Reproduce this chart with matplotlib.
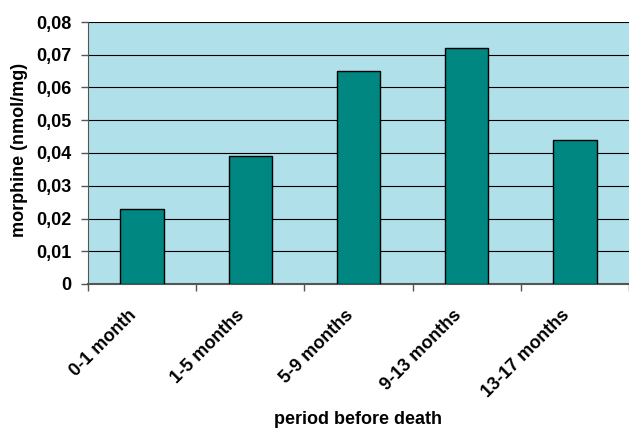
import numpy as np
import matplotlib
matplotlib.use("Agg")
import matplotlib.pyplot as plt
import matplotlib.transforms as mtransforms
from matplotlib.ticker import FuncFormatter, MultipleLocator

categories = ["0-1 month", "1-5 months", "5-9 months", "9-13 months", "13-17 months"]
morphine = [0.023, 0.039, 0.065, 0.072, 0.044]

plt.rcParams["font.family"] = ["Liberation Sans", "DejaVu Sans"]
plt.rcParams["font.weight"] = "bold"

fig = plt.figure(figsize=(6.29, 4.28), dpi=100, facecolor="white")
ax = fig.add_axes([88 / 629, 1 - 284 / 428, (629 - 88) / 629, (284 - 22) / 428])
ax.set_facecolor("#b0e0ea")

x = np.arange(len(categories))
ax.bar(x, morphine, width=0.4, color="#008781", edgecolor="black", linewidth=1.0, zorder=3)

ax.set_xlim(-0.5, len(categories) - 0.5)
ax.set_ylim(0, 0.08)
ax.yaxis.set_major_locator(MultipleLocator(0.01))
ax.yaxis.set_major_formatter(FuncFormatter(
    lambda v, p: "0" if abs(v) < 1e-9 else f"{v:.2f}".replace(".", ",")))
ax.grid(axis="y", color="black", linewidth=0.8, zorder=1)

ax.set_xticks(np.arange(len(categories) + 1) - 0.5)
ax.set_xticklabels([])
ax.set_xticks(x, minor=True)
ax.tick_params(axis="x", which="minor", length=0, pad=20.5)
ax.tick_params(axis="x", which="major", length=5, color="#555555", width=1)
ax.tick_params(axis="y", length=5, color="#555555", width=1, labelsize=13, pad=7)
ax.set_xticklabels(categories, minor=True, rotation=45, ha="right", va="center",
                   rotation_mode="anchor", fontsize=13, fontweight="bold")
shift = mtransforms.ScaledTranslation(-8 / 100, 0, fig.dpi_scale_trans)
for lbl in ax.get_xticklabels(minor=True):
    lbl.set_transform(lbl.get_transform() + shift)
for lbl in ax.get_yticklabels():
    lbl.set_fontweight("bold")

for side in ["top", "right"]:
    ax.spines[side].set_visible(False)
ax.spines["left"].set_color("#555555")
ax.spines["bottom"].set_color("#555555")
ax.spines["bottom"].set_linewidth(1.5)

fig.text(20 / 629, 1 - 150 / 428, "morphine (nmol/mg)", rotation=90,
         ha="center", va="center", fontsize=13, fontweight="bold")
fig.text((88 + 629) / 2 / 629, 1 - 420 / 428, "period before death",
         ha="center", va="center", fontsize=13, fontweight="bold")

fig.savefig("out.png", dpi=100, facecolor="white")
